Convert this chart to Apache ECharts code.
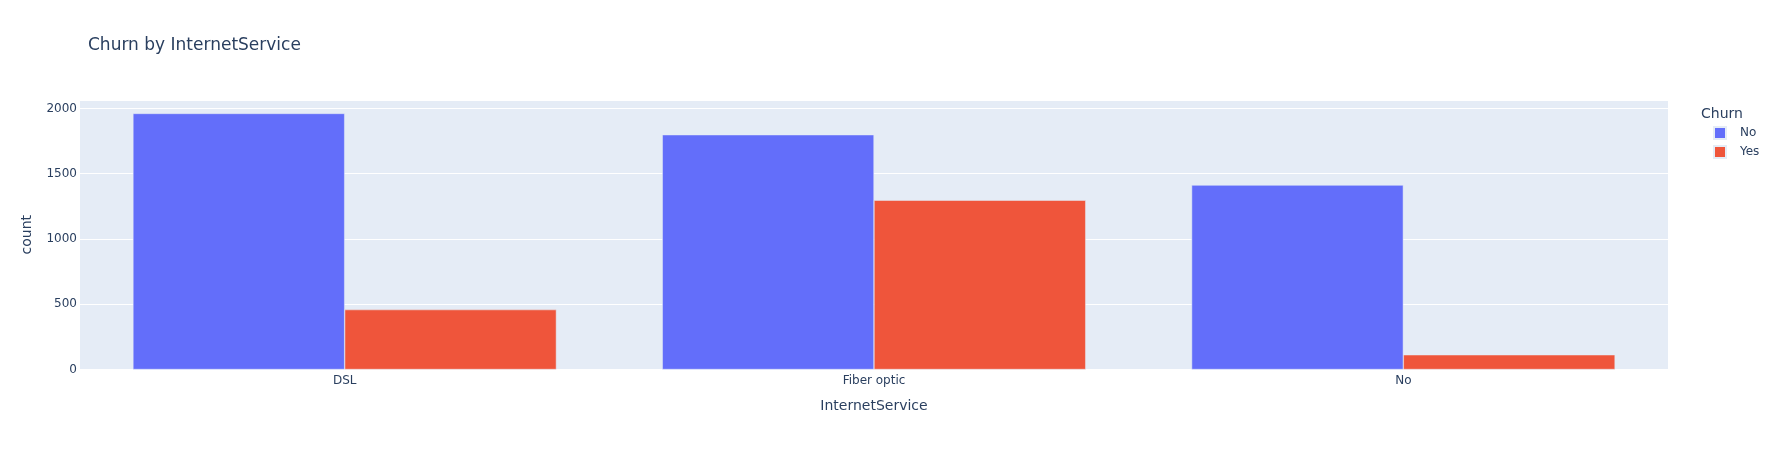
<!DOCTYPE html>
<html><head><meta charset="utf-8">
<script src="https://cdn.jsdelivr.net/npm/echarts@6/dist/echarts.min.js"></script>
<style>html,body{margin:0;padding:0;background:#fff}#c{width:1778px;height:450px}</style>
</head><body><div id="c"></div>
<script>
const categories = ["DSL", "Fiber optic", "No"];
const churnNo = [1962, 1799, 1413];
const churnYes = [459, 1297, 113];
const seriesNames = ["No", "Yes"];
const yTicks = [0, 500, 1000, 1500, 2000];

const FONT = '"DejaVu Sans", Verdana, sans-serif';
const TXT = '#2a3f5f';
const chart = echarts.init(document.getElementById('c'), null, {renderer: 'canvas'});
chart.setOption({
  animation: false,
  backgroundColor: '#fff',
  textStyle: {fontFamily: FONT, color: TXT},
  title: [
    {text: 'Churn by InternetService', left: 88, top: 37, padding: 0, textStyle: {fontFamily: FONT, fontSize: 17, fontWeight: 'normal', color: TXT}},
    {text: 'Churn', left: 1701, top: 107, padding: 0, textStyle: {fontFamily: FONT, fontSize: 14, fontWeight: 'normal', color: TXT}}
  ],
  legend: {
    orient: 'vertical', left: 1713, top: 126, padding: 0, itemWidth: 12, itemHeight: 12, itemGap: 5,
    icon: 'rect', data: seriesNames,
    textStyle: {fontFamily: FONT, fontSize: 12, color: TXT, padding: [0, 0, 0, 9]}
  },
  grid: {left: 80, right: 110, top: 100, bottom: 80.5, containLabel: false, show: true, backgroundColor: '#E5ECF6', borderWidth: 0},
  xAxis: {
    type: 'category', data: categories,
    name: 'InternetService', nameLocation: 'middle', nameGap: 30,
    nameTextStyle: {fontFamily: FONT, fontSize: 14, color: TXT},
    axisLine: {show: false}, axisTick: {show: false},
    axisLabel: {fontFamily: FONT, fontSize: 12, color: TXT, margin: 5}
  },
  yAxis: {
    type: 'value', min: 0, max: 2065, interval: 500,
    name: 'count', nameLocation: 'middle', nameGap: 46,
    nameTextStyle: {fontFamily: FONT, fontSize: 14, color: TXT},
    axisLine: {show: false}, axisTick: {show: false},
    axisLabel: {fontFamily: FONT, fontSize: 12, color: TXT, margin: 3,
      formatter: v => (yTicks.indexOf(v) >= 0 ? String(v) : '')},
    splitLine: {lineStyle: {color: '#ffffff', width: 1}}
  },
  series: [
    {name: seriesNames[0], type: 'bar', data: churnNo, barGap: '0%', barCategoryGap: '20%',
     itemStyle: {color: '#636efa', borderColor: '#E5ECF6', borderWidth: 0.5}},
    {name: seriesNames[1], type: 'bar', data: churnYes, barGap: '0%', barCategoryGap: '20%',
     itemStyle: {color: '#EF553B', borderColor: '#E5ECF6', borderWidth: 0.5}}
  ]
});
</script></body></html>
